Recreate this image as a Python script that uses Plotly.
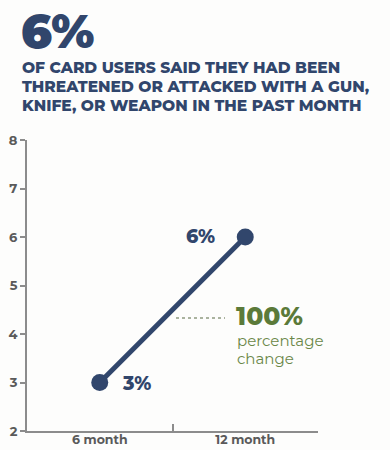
import plotly.graph_objects as go

# Data
periods = ["6 month", "12 month"]
rates = [3, 6]
y_ticks = [2, 3, 4, 5, 6, 7, 8]
headline = "6%"
subtitle_lines = [
    "OF CARD USERS SAID THEY HAD BEEN",
    "THREATENED OR ATTACKED WITH A GUN,",
    "KNIFE, OR WEAPON IN THE PAST MONTH",
]
change_value = "100%"
change_caption = ["percentage", "change"]

NAVY = "#31466c"
GREEN = "#5b7a39"
AXIS = "#8c8c8c"
TICKTXT = "#5a5a5a"
FONT = "Montserrat, 'DejaVu Sans', sans-serif"

# Plot area in pixels (figure is 390 x 450)
W, H = 390, 450
L, R, T, B = 27, 72, 140, 19
pw, ph = W - L - R, H - T - B


def px(xp):
    return (xp - L) / pw


def py(yp):
    return (H - B - yp) / ph


fig = go.Figure()
fig.add_trace(go.Scatter(
    x=periods, y=rates, mode="lines+markers",
    line=dict(color=NAVY, width=5),
    marker=dict(color=NAVY, size=17),
    hoverinfo="skip", showlegend=False,
))

annotations = []
# value labels
annotations.append(dict(x=periods[1], y=rates[1], xref="x", yref="y",
                        text=f"{rates[1]}%", showarrow=False,
                        xanchor="right", xshift=-28, yshift=1,
                        font=dict(family=FONT, size=19, color=NAVY, weight=800)))
annotations.append(dict(x=periods[0], y=rates[0], xref="x", yref="y",
                        text=f"{rates[0]}%", showarrow=False,
                        xanchor="left", xshift=20, yshift=-1,
                        font=dict(family=FONT, size=19, color=NAVY, weight=800)))
# headline
annotations.append(dict(x=px(19), y=py(31), xref="paper", yref="paper",
                        text=headline, showarrow=False,
                        xanchor="left", yanchor="middle",
                        font=dict(family=FONT, size=47, color=NAVY, weight=900)))
for i, line in enumerate(subtitle_lines):
    annotations.append(dict(x=px(20), y=py(67 + 19 * i), xref="paper", yref="paper",
                            text=line, showarrow=False,
                            xanchor="left", yanchor="middle",
                            font=dict(family=FONT, size=15.5, color=NAVY, weight=800)))
# change callout
annotations.append(dict(x=px(234), y=py(316), xref="paper", yref="paper",
                        text=change_value, showarrow=False,
                        xanchor="left", yanchor="middle",
                        font=dict(family=FONT, size=25, color=GREEN, weight=800)))
for i, line in enumerate(change_caption):
    annotations.append(dict(x=px(235), y=py(340 + 18 * i), xref="paper", yref="paper",
                            text=line, showarrow=False,
                            xanchor="left", yanchor="middle",
                            font=dict(family=FONT, size=15, color="#6a8748")))

fig.update_layout(
    width=W, height=H,
    margin=dict(l=L, r=R, t=T, b=B),
    paper_bgcolor="#fdfdfc", plot_bgcolor="#fdfdfc",
    annotations=annotations,
    shapes=[dict(type="line", xref="paper", yref="paper",
                 x0=px(176), x1=px(225), y0=py(318), y1=py(318),
                 line=dict(color="#8f9a80", width=1.5, dash="dot"))],
    xaxis=dict(
        type="category", range=[-0.5, 1.5], automargin=False,
        showline=True, linecolor=AXIS, linewidth=2,
        tickson="boundaries", ticks="inside", ticklen=7,
        tickcolor=AXIS, tickwidth=2, ticklabelstandoff=-4,
        showgrid=False, zeroline=False,
        tickfont=dict(family=FONT, size=12.5, color=TICKTXT, weight="bold"),
    ),
    yaxis=dict(
        range=[2, 8], tickvals=y_ticks, automargin=False,
        showline=True, linecolor=AXIS, linewidth=2,
        ticks="outside", ticklen=5, tickcolor=AXIS, tickwidth=2,
        showgrid=False, zeroline=False,
        tickfont=dict(family=FONT, size=13, color=TICKTXT, weight="bold"),
    ),
)

fig.write_html("out.html")
